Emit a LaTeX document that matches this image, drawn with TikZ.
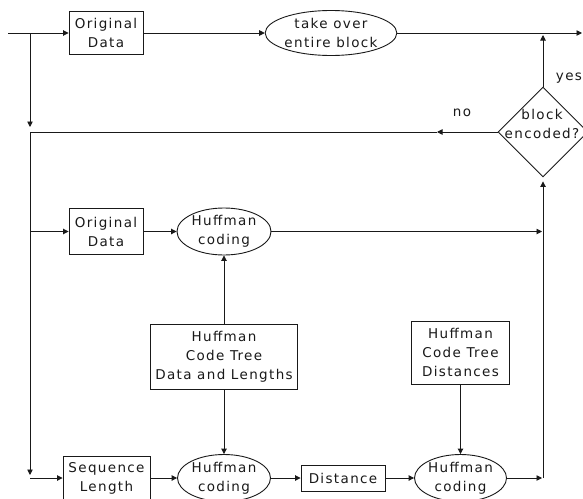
\documentclass[tikz,border=0pt]{standalone}
\usepackage{fontspec}
\setmainfont{DejaVu Sans}[LetterSpace=10]
\usetikzlibrary{shapes.geometric,arrows.meta}
\begin{document}
\begin{tikzpicture}[x=1pt,y=-1pt,
  every node/.style={font=\fontsize{13.5}{19}\selectfont, text=black!90, align=center},
  link/.style={line width=0.9pt, draw=black!90},
  box/.style={draw=black!90, line width=0.9pt, inner sep=0pt},
  oval/.style={draw=black!90, ellipse, line width=0.9pt, inner sep=0pt},
  dia/.style={draw=black!90, diamond, line width=0.9pt, inner sep=0pt, minimum width=90pt, minimum height=90pt},
  arr/.style={link, -{Triangle[length=5.5pt,width=5.5pt]}}]
\useasboundingbox (0,0) rectangle (583,498);

% nodes
\node[box, minimum width=74pt, minimum height=43pt] (o1) at (106,33) {Original\\Data};
\node[oval, minimum width=124pt, minimum height=45pt] (e1) at (331,33) {take over\\entire block};
\node[dia] (d) at (543,132) {};
\node (dt) at (542,124) {block\\encoded?};
\node (yes) at (569,78) {yes};
\node (no) at (462,113) {no};

\node[box, minimum width=74pt, minimum height=46pt] (o2) at (106,231.5) {Original\\Data};
\node[oval, minimum width=94pt, minimum height=47pt] (e2) at (224,231.5) {Huffman\\coding};
\node[box, minimum width=147pt, minimum height=65pt] (t1) at (224,356.5) {Huffman\\Code Tree\\Data and Lengths};
\node[box, minimum width=98pt, minimum height=63pt] (t2) at (460.5,352.5) {Huffman\\Code Tree\\Distances};

\node[box, minimum width=87pt, minimum height=44pt] (s) at (106.5,478) {Sequence\\Length};
\node[oval, minimum width=93pt, minimum height=47pt] (e3) at (224,478) {Huffman\\coding};
\node[box, minimum width=84pt, minimum height=26pt] (dist) at (343,478) {Distance};
\node[oval, minimum width=92pt, minimum height=47pt] (e4) at (460.5,478) {Huffman\\coding};

% coordinates
\coordinate (in) at (8,33);
\coordinate (out) at (582,33);
\coordinate (lt) at (30,33);
\coordinate (lno) at (30,132);
\coordinate (lm) at (30,231.5);
\coordinate (lb) at (30,478);
\coordinate (rt) at (543,33);
\coordinate (rm) at (543,231.5);
\coordinate (rb) at (543,478);
\coordinate (nomid) at (437,132);

% connectors
\draw[arr] (in) -- (o1);
\draw[arr] (o1) -- (e1);
\draw[arr] (e1) -- (out);
\draw[arr, shorten >=2pt] (d.north) -- (rt);
\draw[arr] (d.west) -- (nomid);
\draw[link] (nomid) -- (lno);
\draw[arr, shorten >=5pt] (lt) -- (lno);
\draw[arr, shorten >=3pt] (lno) -- (lb);
\draw[arr] (lm) -- (o2);
\draw[arr] (o2) -- (e2);
\draw[arr, shorten >=1pt] (e2) -- (rm);
\draw[arr] (t1) -- (e2);
\draw[arr] (t1) -- (e3);
\draw[arr] (t2) -- (e4);
\draw[arr] (lb) -- (s);
\draw[arr] (s) -- (e3);
\draw[arr] (e3) -- (dist);
\draw[arr] (dist) -- (e4);
\draw[arr, shorten >=1pt] (e4) -- (rb);
\draw[arr, shorten >=4pt] (rb) -- (d.south);
\end{tikzpicture}
\end{document}
